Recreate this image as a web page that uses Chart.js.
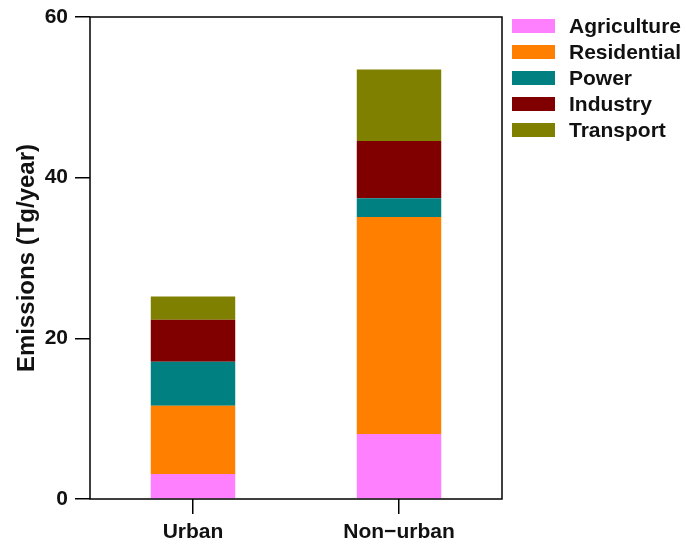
<!DOCTYPE html>
<html>
<head>
<meta charset="utf-8">
<script src="https://cdn.jsdelivr.net/npm/chart.js@4"></script>
<style>
  html, body { margin: 0; padding: 0; background: #fff; }
  #wrap { width: 686px; height: 548px; }
</style>
</head>
<body>
<div id="wrap"><canvas id="emisChart" width="686" height="548"></canvas></div>
<script>
// emissions by sector, urban vs non-urban (Tg/year)
const regions = ['Urban', 'Non\u2212urban'];
const sectors = ['Agriculture', 'Residential', 'Power', 'Industry', 'Transport'];
const agriculture = [3.1, 8.1];
const residential = [8.5, 27.0];
const power = [5.5, 2.35];
const industry = [5.2, 7.1];
const transport = [2.9, 8.9];
const yTicks = [0, 20, 40, 60];

const colors = ['#FF80FF', '#FF8000', '#008080', '#800000', '#808000'];
const series = [agriculture, residential, power, industry, transport];
const FONT = '"Liberation Sans", Arial, sans-serif';

// box round the plot area
const frame = {
  id: 'frame',
  afterDraw(chart) {
    const a = chart.chartArea, ctx = chart.ctx;
    ctx.save();
    ctx.strokeStyle = '#000';
    ctx.lineWidth = 1.5;
    ctx.strokeRect(a.left, a.top, a.right - a.left, a.bottom - a.top);
    ctx.restore();
  }
};

// legend on the right, top to bottom in dataset order
const sideLegend = {
  id: 'sideLegend',
  afterDraw(chart) {
    const ctx = chart.ctx;
    ctx.save();
    ctx.font = 'bold 21px ' + FONT;
    ctx.textBaseline = 'middle';
    chart.data.datasets.forEach((ds, i) => {
      const y = 26 + i * 26;
      ctx.fillStyle = ds.backgroundColor;
      ctx.fillRect(512, y - 7, 43, 14);
      ctx.fillStyle = '#111';
      ctx.fillText(ds.label, 569, y + 1);
    });
    ctx.restore();
  }
};

new Chart(document.getElementById('emisChart'), {
  type: 'bar',
  data: {
    labels: regions,
    datasets: sectors.map((s, i) => ({
      label: s,
      data: series[i],
      backgroundColor: colors[i],
      borderWidth: 0,
      barPercentage: 0.82,
      categoryPercentage: 0.5
    }))
  },
  options: {
    responsive: false,
    animation: false,
    layout: { padding: { top: 17, right: 184, left: 0, bottom: 0 } },
    plugins: { legend: { display: false }, tooltip: { enabled: false } },
    scales: {
      x: {
        stacked: true,
        afterFit(scale) { scale.height = 49; scale.paddingLeft = 0; scale.paddingRight = 0; },
        grid: { display: true, offset: false, drawOnChartArea: false, drawTicks: true, tickLength: 15, color: '#000', lineWidth: 1.5 },
        border: { display: false },
        ticks: { color: '#111', padding: 6, font: { family: FONT, size: 21, weight: 'bold' } }
      },
      y: {
        stacked: true,
        min: 0,
        max: 60,
        afterFit(scale) { scale.width = 90; scale.paddingTop = 0; scale.paddingBottom = 0; },
        afterBuildTicks(scale) { scale.ticks = yTicks.map(v => ({ value: v })); },
        grid: { display: true, drawOnChartArea: false, drawTicks: true, tickLength: 15, color: '#000', lineWidth: 1.5 },
        border: { display: false },
        ticks: { color: '#111', padding: 7, font: { family: FONT, size: 21, weight: 'bold' } },
        title: {
          display: true,
          text: 'Emissions (Tg/year)',
          color: '#111',
          padding: { top: 13, bottom: 0 },
          font: { family: FONT, size: 24, weight: 'bold' }
        }
      }
    }
  },
  plugins: [frame, sideLegend]
});
</script>
</body>
</html>
